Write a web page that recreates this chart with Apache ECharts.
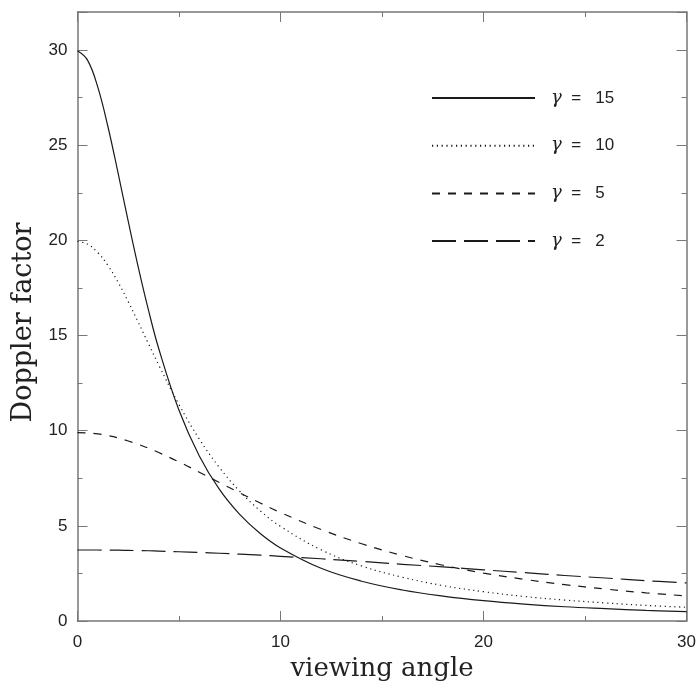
<!DOCTYPE html>
<html>
<head>
<meta charset="utf-8">
<script src="https://cdn.jsdelivr.net/npm/echarts@6/dist/echarts.min.js"></script>
<style>
  html, body { margin: 0; padding: 0; background: #fff; }
  #chart { width: 699px; height: 690px; }
</style>
</head>
<body>
<div id="chart"></div>
<script>
// viewing angle (deg)
var angles = [0, 0.5, 1, 1.5, 2, 2.5, 3, 3.5, 4, 5, 6, 7, 8, 9, 10, 12, 14, 16, 18, 20, 22, 24, 26, 28, 30];
// Doppler factor
var gamma15 = [29.96, 29.46, 28.05, 25.97, 23.53, 21.00, 18.56, 16.32, 14.32, 11.07, 8.67, 6.90, 5.59, 4.60, 3.84, 2.77, 2.09, 1.63, 1.31, 1.07, 0.89, 0.75, 0.65, 0.56, 0.49];
var gamma10 = [19.95, 19.80, 19.36, 18.68, 17.80, 16.78, 15.68, 14.56, 13.45, 11.37, 9.56, 8.05, 6.81, 5.79, 4.97, 3.74, 2.89, 2.30, 1.86, 1.54, 1.29, 1.10, 0.95, 0.82, 0.72];
var gamma5 = [9.90, 9.88, 9.83, 9.74, 9.62, 9.46, 9.28, 9.08, 8.85, 8.36, 7.82, 7.27, 6.73, 6.20, 5.70, 4.81, 4.06, 3.44, 2.93, 2.52, 2.19, 1.91, 1.68, 1.48, 1.32];
var gamma2 = [3.73, 3.73, 3.73, 3.72, 3.72, 3.71, 3.70, 3.69, 3.67, 3.64, 3.60, 3.56, 3.51, 3.46, 3.40, 3.27, 3.13, 2.98, 2.84, 2.69, 2.54, 2.39, 2.26, 2.12, 2.00];

var seriesNames = ['γ = 15', 'γ = 10', 'γ = 5', 'γ = 2'];
var seriesData = [gamma15, gamma10, gamma5, gamma2];
var dashes = ['solid', [1.2, 3.6], [8, 8], [24, 8]];

var chart = echarts.init(document.getElementById('chart'));

function pairs(vals) {
  return angles.map(function (a, i) { return [a, vals[i]]; });
}

var axisLine = { show: true, onZero: false, lineStyle: { color: '#777', width: 1.5 } };
var tickStyle = { color: '#777', width: 1 };
var labelFont = { color: '#222', fontSize: 17, fontFamily: 'Liberation Sans' };

var series = seriesNames.map(function (name, i) {
  return {
    name: name,
    type: 'line',
    data: pairs(seriesData[i]),
    smooth: 0.4,
    symbol: 'none',
    lineStyle: { color: '#1a1a1a', width: 1.2, type: dashes[i] },
    itemStyle: { color: '#1a1a1a' }
  };
});

// mirrored frame axes (top / right), ticks only
function sideAxis(pos, max, interval) {
  return {
    type: 'value',
    position: pos,
    min: 0, max: max, interval: interval,
    axisLine: axisLine,
    axisTick: { show: true, inside: true, length: 10, lineStyle: tickStyle },
    minorTick: { show: true, splitNumber: 2, length: 5, lineStyle: tickStyle },
    axisLabel: { show: false },
    splitLine: { show: false }
  };
}

var option = {
  animation: false,
  backgroundColor: '#fff',
  grid: { left: 77.5, right: 12, top: 12, bottom: 69 },
  legend: {
    orient: 'vertical',
    left: 426,
    top: 84,
    itemWidth: 103,
    itemHeight: 14,
    itemGap: 29.7,
    data: seriesNames,
    itemStyle: { opacity: 0 },
    formatter: function (name) {
      return '{g|γ}  =   ' + name.split('= ')[1];
    },
    textStyle: {
      color: '#222',
      fontSize: 17,
      fontFamily: 'Liberation Sans',
      padding: [0, 0, 0, 11],
      rich: {
        g: { fontFamily: 'DejaVu Serif', fontStyle: 'italic', fontSize: 18, color: '#222' }
      }
    }
  },
  xAxis: [{
    type: 'value',
    min: 0, max: 30, interval: 10,
    name: 'viewing angle',
    nameLocation: 'middle',
    nameGap: 34,
    nameTextStyle: { fontFamily: 'DejaVu Serif', fontSize: 26, color: '#222' },
    axisLine: axisLine,
    axisTick: { show: true, inside: true, length: 10, lineStyle: tickStyle },
    minorTick: { show: true, splitNumber: 2, length: 5, lineStyle: tickStyle },
    axisLabel: Object.assign({ margin: 13 }, labelFont),
    splitLine: { show: false }
  }, sideAxis('top', 30, 10)],
  yAxis: [{
    type: 'value',
    min: 0, max: 32, interval: 5,
    name: 'Doppler factor',
    nameLocation: 'middle',
    nameGap: 34,
    nameTextStyle: { fontFamily: 'DejaVu Serif', fontSize: 27, color: '#222', padding: [0, 12, 0, 0] },
    axisLine: axisLine,
    axisTick: { show: true, inside: true, length: 10, lineStyle: tickStyle },
    minorTick: { show: true, splitNumber: 2, length: 5, lineStyle: tickStyle },
    axisLabel: Object.assign({ margin: 10, showMaxLabel: false }, labelFont),
    splitLine: { show: false }
  }, sideAxis('right', 32, 5)],
  series: series
};

chart.setOption(option);
</script>
</body>
</html>
